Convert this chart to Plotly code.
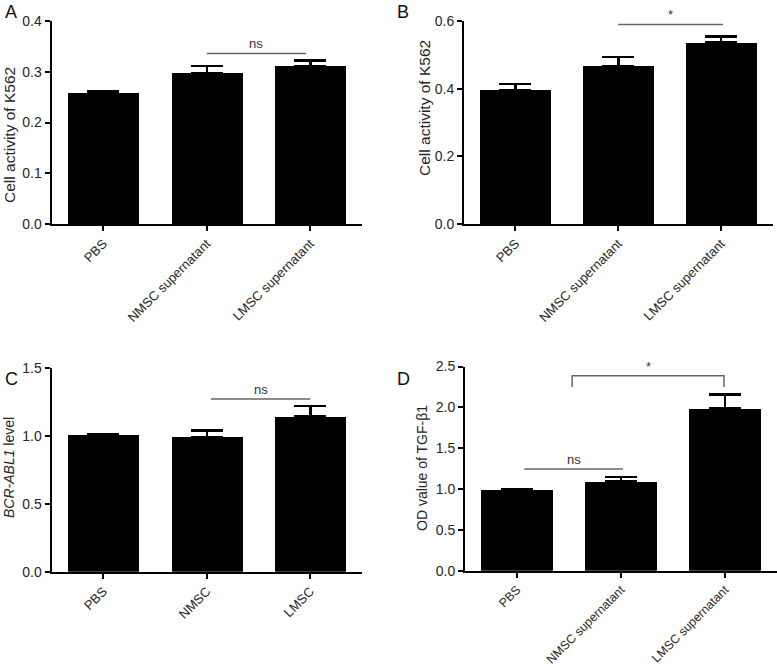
import plotly.graph_objects as go

cats_sup = ["PBS", "NMSC supernatant", "LMSC supernatant"]
cats_c = ["PBS", "NMSC", "LMSC"]

a_mean = [0.258, 0.298, 0.311]
a_sem = [0.004, 0.013, 0.011]
b_mean = [0.396, 0.467, 0.536]
b_sem = [0.018, 0.027, 0.018]
c_mean = [1.007, 0.990, 1.140]
c_sem = [0.005, 0.050, 0.080]
d_mean = [0.990, 1.090, 1.990]
d_sem = [0.010, 0.060, 0.170]

W, H = 777, 668
FONT = "Arial, Liberation Sans, Helvetica, sans-serif"
TICKC = "#262626"

panels = [
    # cats, mean, sem, x domain px, y domain px (top, bottom), y range, dtick,
    # title text, title centre px, title size, letter, letter pos px, x tick size
    (cats_sup, a_mean, a_sem, (51.5, 362), (21, 224), [0, 0.4], 0.1,
     "Cell activity of K562", (9, 135), 15.5, "A", (3, 12), 13),
    (cats_sup, b_mean, b_sem, (464, 772.5), (21, 224), [0, 0.6], 0.2,
     "Cell activity of K562", (424, 108), 15.5, "B", (395, 12), 13),
    (cats_c, c_mean, c_sem, (51.5, 362), (367.7, 571.7), [0, 1.5], 0.5,
     "<i>BCR-ABL1</i> level", (9, 468), 14, "C", (3, 379), 13),
    (cats_sup, d_mean, d_sem, (465, 777), (366.5, 570.7), [0, 2.5], 0.5,
     "OD value of TGF-β1", (422, 468), 14, "D", (395, 379), 12.3),
]

fig = go.Figure()
layout = {}
annotations = []
for i, (cats, mean, sem, xd, yd, yr, dt, yt, tpos, tsize, letter, lp, xts) in enumerate(panels):
    n = "" if i == 0 else str(i + 1)
    fig.add_trace(go.Bar(
        x=cats, y=mean, width=0.69,
        marker=dict(color="black", line=dict(width=0)),
        error_y=dict(type="data", symmetric=False, array=sem, arrayminus=[0] * len(sem),
                     color="black", thickness=2.5, width=16),
        xaxis="x" + n, yaxis="y" + n, showlegend=False,
    ))
    layout["xaxis" + n] = dict(
        domain=[xd[0] / W, xd[1] / W], anchor="y" + n, type="category",
        range=[-0.5, 2.5], showline=True, linecolor="black", linewidth=2,
        ticks="outside", ticklen=5, tickwidth=2, tickcolor="black",
        tickangle=-45, tickfont=dict(family=FONT, size=xts, color=TICKC),
        showgrid=False, zeroline=False, automargin=False,
    )
    layout["yaxis" + n] = dict(
        domain=[1 - yd[1] / H, 1 - yd[0] / H], anchor="x" + n,
        range=yr, dtick=dt, tick0=0, tickformat=".1f",
        showline=True, linecolor="black", linewidth=2,
        ticks="outside", ticklen=5, tickwidth=2, tickcolor="black",
        tickfont=dict(family=FONT, size=14, color=TICKC),
        showgrid=False, zeroline=False, automargin=False,
    )
    annotations.append(dict(text=yt, x=tpos[0] / W, y=1 - tpos[1] / H, xref="paper", yref="paper",
                            textangle=-90, xanchor="center", yanchor="middle", showarrow=False,
                            font=dict(family=FONT, size=tsize, color=TICKC)))
    annotations.append(dict(text=letter, x=lp[0] / W, y=1 - lp[1] / H, xref="paper", yref="paper",
                            xanchor="left", yanchor="middle", showarrow=False,
                            font=dict(family=FONT, size=18, color="#111111")))

GRAY = "#666666"
shapes = [
    dict(type="line", xref="x", yref="y", x0=1, x1=1.96, y0=0.336, y1=0.336, line=dict(color=GRAY, width=1.5)),
    dict(type="line", xref="x2", yref="y2", x0=1, x1=2.02, y0=0.59, y1=0.59, line=dict(color=GRAY, width=1.5)),
    dict(type="line", xref="x3", yref="y3", x0=1.04, x1=2.0, y0=1.27, y1=1.27, line=dict(color=GRAY, width=1.5)),
    dict(type="line", xref="x4", yref="y4", x0=0.07, x1=1.02, y0=1.246, y1=1.246, line=dict(color=GRAY, width=1.5)),
    dict(type="path", xref="x4", yref="y4", path="M 0.53,2.25 L 0.53,2.386 L 1.99,2.386 L 1.99,2.25",
         line=dict(color=GRAY, width=1.5)),
]
texts = [
    ("ns", "x", "y", 1.48, 0.336),
    ("*", "x2", "y2", 1.51, 0.59),
    ("ns", "x3", "y3", 1.52, 1.27),
    ("ns", "x4", "y4", 0.545, 1.246),
    ("*", "x4", "y4", 1.26, 2.386),
]
for t, xr, yr_, x, y in texts:
    annotations.append(dict(text=t, x=x, y=y, xref=xr, yref=yr_, showarrow=False,
                            yanchor="bottom", yshift=0,
                            font=dict(family=FONT, size=13, color="#333333")))

fig.update_layout(
    width=W, height=H, margin=dict(l=0, r=0, t=0, b=0),
    paper_bgcolor="white", plot_bgcolor="white", bargap=0,
    shapes=shapes, annotations=annotations, **layout,
)
fig.write_html("out.html", config={"displayModeBar": False},
               post_script="document.body.style.margin='0';document.body.style.overflow='hidden';")
